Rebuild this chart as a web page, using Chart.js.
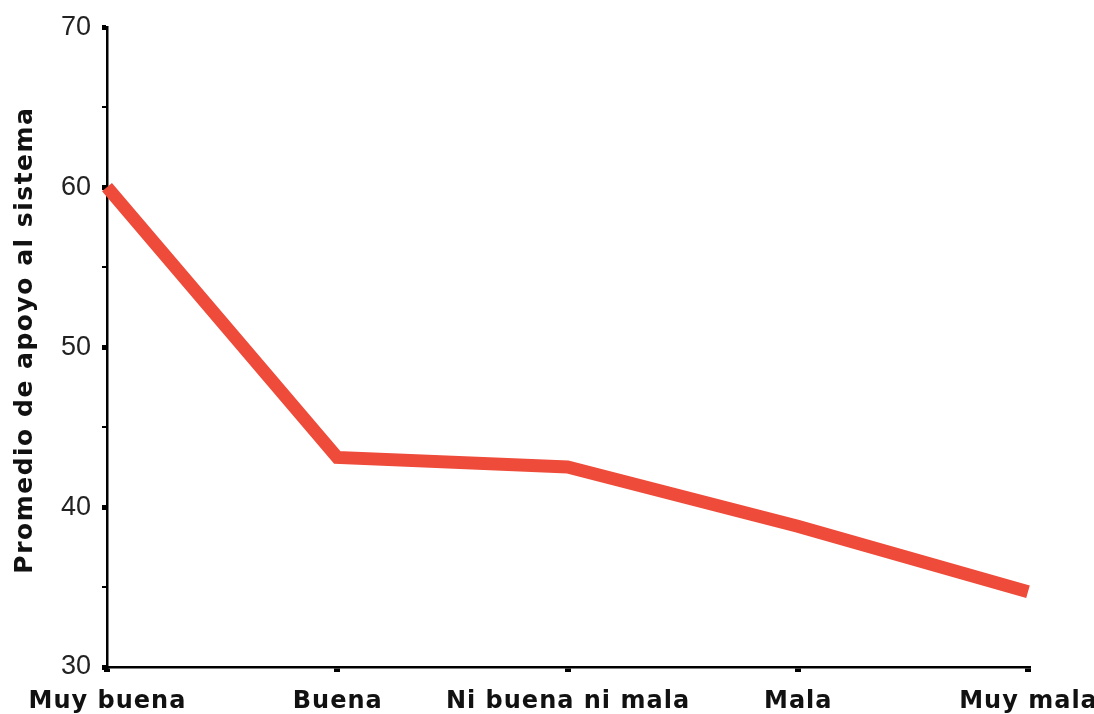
<!DOCTYPE html>
<html>
<head>
<meta charset="utf-8">
<script src="https://cdn.jsdelivr.net/npm/chart.js@4"></script>
<style>
  html, body { margin: 0; padding: 0; background: #fff; }
  #wrap { width: 1094px; height: 714px; }
</style>
</head>
<body>
<div id="wrap"><canvas id="chart" width="1094" height="714"></canvas></div>
<script>
const categories = ["Muy buena", "Buena", "Ni buena ni mala", "Mala", "Muy mala"];
const apoyo = [60.0, 43.1, 42.5, 38.8, 34.7];
const yTicks = [30, 40, 50, 60, 70];
const yTitle = "Promedio de apoyo al sistema";

// x labels and y title are drawn here so they can get letter spacing
const spacedText = {
    id: "spacedText",
    afterDraw(chart) {
        const ctx = chart.ctx;
        const x = chart.scales.x;
        const area = chart.chartArea;
        ctx.save();
        ctx.fillStyle = "#111";
        ctx.textAlign = "center";
        ctx.textBaseline = "alphabetic";
        ctx.letterSpacing = "1px";
        ctx.font = "bold 24px 'DejaVu Sans', Verdana, sans-serif";
        categories.forEach((c, i) => {
            ctx.fillText(c, x.getPixelForValue(i) + 0.5, 708);
        });
        // rotated axis title
        ctx.letterSpacing = "1.5px";
        ctx.font = "bold 25px 'DejaVu Sans', Verdana, sans-serif";
        ctx.translate(32, (area.top + area.bottom) / 2 - 7);
        ctx.rotate(-Math.PI / 2);
        ctx.fillText(yTitle, 0, 0);
        ctx.restore();
    }
};

new Chart(document.getElementById("chart"), {
    type: "line",
    data: {
        labels: categories,
        datasets: [{
            data: apoyo,
            borderColor: "#ef4b3a",
            borderWidth: 13,
            borderJoinStyle: "miter",
            pointRadius: 0,
            tension: 0,
            fill: false
        }]
    },
    options: {
        responsive: false,
        animation: false,
        layout: { padding: { top: 25, right: 66, bottom: 0, left: 0 } },
        plugins: {
            legend: { display: false },
            tooltip: { enabled: false }
        },
        scales: {
            x: {
                offset: false,
                grid: {
                    drawOnChartArea: false,
                    drawTicks: true,
                    tickLength: 5,
                    color: "#000",
                    lineWidth: 6
                },
                border: { color: "#000", width: 2.5 },
                ticks: { display: false },
                afterFit: (s) => { s.height = 47; }
            },
            y: {
                min: 30,
                max: 70,
                grid: {
                    drawOnChartArea: false,
                    drawTicks: true,
                    tickLength: 5,
                    color: "#000",
                    lineWidth: (c) => (yTicks.includes(c.tick && c.tick.value) ? 5 : 2)
                },
                border: { color: "#000", width: 2.5 },
                ticks: {
                    stepSize: 5,
                    padding: 11,
                    color: "#222",
                    font: { family: "'Liberation Sans', Arial, sans-serif", size: 27 },
                    callback: (v) => (yTicks.includes(v) ? v : "")
                },
                afterFit: (s) => { s.width = 107; }
            }
        }
    },
    plugins: [spacedText]
});
</script>
</body>
</html>
